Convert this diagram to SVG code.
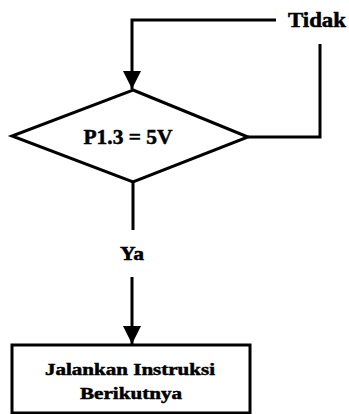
<svg xmlns="http://www.w3.org/2000/svg" width="349" height="414" viewBox="0 0 349 414">
<style>
.ln{fill:none;stroke:#000;stroke-width:3;stroke-linejoin:miter}
.sh{fill:#fff;stroke:#000;stroke-width:3}
.t{font-family:"Liberation Serif","Times New Roman",serif;font-weight:bold;fill:#000;stroke:#000;stroke-width:0.5;text-anchor:middle}
</style>
<defs>
<marker id="ah" markerWidth="6" markerHeight="6" refX="6" refY="3" orient="auto" markerUnits="strokeWidth">
<path d="M0,0 L6,3 L0,6 Z" fill="#000"/>
</marker>
</defs>
<rect width="349" height="414" fill="#fff"/>
<g id="connectors">
<path class="ln" d="M276,20 H132 V89" marker-end="url(#ah)"/>
<path class="ln" d="M248,137 H320 V44"/>
<path class="ln" d="M133,182 V230"/>
<path class="ln" d="M132,277 V344" marker-end="url(#ah)"/>
</g>
<g id="label-tidak"><text class="t" x="317" y="27" font-size="20" textLength="58" lengthAdjust="spacingAndGlyphs">Tidak</text></g>
<g id="label-ya"><text class="t" x="132" y="260" font-size="19" textLength="24" lengthAdjust="spacingAndGlyphs">Ya</text></g>
<g id="decision">
<path class="sh" d="M133,90 L248,137 L133,182 L12,136 Z"/>
<text class="t" x="128" y="144" font-size="20" textLength="89" lengthAdjust="spacingAndGlyphs">P1.3 = 5V</text>
</g>
<g id="process">
<rect class="sh" x="12" y="345" width="238" height="68"/>
<text class="t" x="130" y="375" font-size="17" textLength="170" lengthAdjust="spacingAndGlyphs">Jalankan Instruksi</text>
<text class="t" x="131" y="399" font-size="17" textLength="102" lengthAdjust="spacingAndGlyphs">Berikutnya</text>
</g>
</svg>
